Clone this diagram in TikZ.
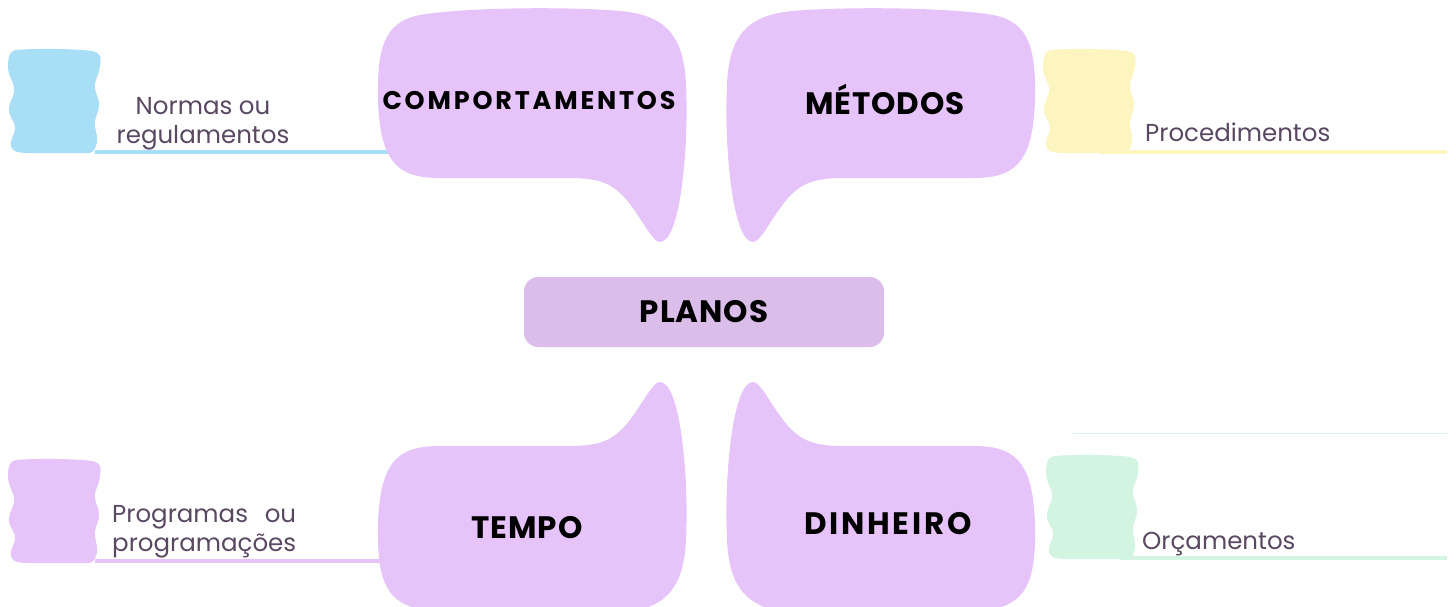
\documentclass[tikz,border=0pt]{standalone}
\usepackage{fontspec}
\setmainfont{Poppins}
\newfontfamily\headfont{Poppins}[LetterSpace=3]
\newfontfamily\wideheadfont{Poppins}[LetterSpace=9]
\newfontfamily\spacedfont{Poppins}[LetterSpace=11]
\definecolor{bubfill}{HTML}{E6C3F9}
\definecolor{centerfill}{HTML}{DABDE8}
\definecolor{blueblob}{HTML}{A9DEF7}
\definecolor{yellowblob}{HTML}{FCF5BF}
\definecolor{greenblob}{HTML}{D2F4E0}
\definecolor{purpleblob}{HTML}{E6C3F9}
\definecolor{thinline}{HTML}{DCEFE8}
\definecolor{labeltext}{HTML}{5A4862}
\tikzset{
  bubble/.pic={
    \fill[bubfill] (378,100) .. controls (377,50) and (383,22) .. (420,15)
      .. controls (460,8) and (560,6) .. (620,11)
      .. controls (665,15) and (684,35) .. (686,85)
      .. controls (689,150) and (680,242) .. (660,242)
      .. controls (652,242) and (640,215) .. (625,198)
      .. controls (612,184) and (600,178) .. (570,178)
      -- (440,178)
      .. controls (400,178) and (380,165) .. (378,100) -- cycle;
  },
  blob/.pic={
    \fill[#1] (8,0) .. controls (30,-2) and (70,-1) .. (84,1)
      .. controls (94,3) and (93,8) .. (92,16)
      .. controls (91,26) and (86,30) .. (87,38)
      .. controls (88,46) and (92,50) .. (91,57)
      .. controls (90,64) and (86,68) .. (87,76)
      .. controls (88,84) and (91,90) .. (88,96)
      .. controls (86,101) and (84,103) .. (80,103)
      -- (20,103) .. controls (6,103) and (2,100) .. (3,92)
      .. controls (4,86) and (8,82) .. (7,76)
      .. controls (6,70) and (0,66) .. (1,58)
      .. controls (2,50) and (7,46) .. (6,38)
      .. controls (5,30) and (0,26) .. (0,16)
      .. controls (0,6) and (2,1) .. (8,0) -- cycle;
  },
  branch/.style={line width=4pt},
  headlabel/.style={font=\headfont\bfseries\fontsize{31}{36}\selectfont, text=black, inner sep=0pt},
  leaflabel/.style={font=\fontsize{24.5}{28.5}\selectfont, text=labeltext, inner sep=0pt},
}
\begin{document}
\begin{tikzpicture}[x=1pt,y=-1pt]
\useasboundingbox (0,0) rectangle (1456,607);
\clip (0,0) rectangle (1456,607);
\fill[white] (0,0) rectangle (1456,607);
% connector ends
\coordinate (nA) at (95,152);   \coordinate (nB) at (400,152);
\coordinate (pA) at (1100,152); \coordinate (pB) at (1447,152);
\coordinate (gA) at (95,561);   \coordinate (gB) at (390,561);
\coordinate (oA) at (1120,558); \coordinate (oB) at (1447,558);
\coordinate (tA) at (1073,433); \coordinate (tB) at (1447,433);
\draw[branch, blueblob] (nA) -- (nB);
\draw[branch, yellowblob] (pA) -- (pB);
\draw[branch, purpleblob] (gA) -- (gB);
\draw[branch, greenblob] (oA) -- (oB);
\draw[line width=1pt, thinline] (tA) -- (tB);
% bubbles
\pic at (0,0) {bubble};
\pic[xscale=-1] at (1413,0) {bubble};
\pic[yscale=-1] at (0,624) {bubble};
\pic[xscale=-1,yscale=-1] at (1413,624) {bubble};
% blobs
\pic at (8,50) {blob=blueblob};
\pic at (1043,50) {blob=yellowblob};
\pic at (8,460) {blob=purpleblob};
\pic at (1046,456) {blob=greenblob};
% center
\node[headlabel, fill=centerfill, rounded corners=14pt, minimum width=360pt, minimum height=70pt] (planos) at (704,312) {PLANOS};
% heads
\node[headlabel, font=\spacedfont\bfseries\fontsize{25.5}{30}\selectfont] (comp) at (529,101) {COMPORTAMENTOS};
\node[headlabel] (metodos) at (885,99) {MÉTODOS};
\node[headlabel] (tempo) at (527,528) {TEMPO};
\node[headlabel, font=\wideheadfont\bfseries\fontsize{31}{36}\selectfont] (dinheiro) at (888,524) {DINHEIRO};
% leaves
\node[leaflabel, align=center, anchor=base] (normas) at (203,143) {Normas ou\\regulamentos};
\node[leaflabel, anchor=base west] (proc) at (1145,142) {Procedimentos};
\node[leaflabel, align=left, anchor=base west] (prog) at (112,551) {\setbox0\hbox{programações}\makebox[\wd0][s]{Programas ou}\\programações};
\node[leaflabel, anchor=base west] (orc) at (1142,549) {Orçamentos};
\end{tikzpicture}
\end{document}
